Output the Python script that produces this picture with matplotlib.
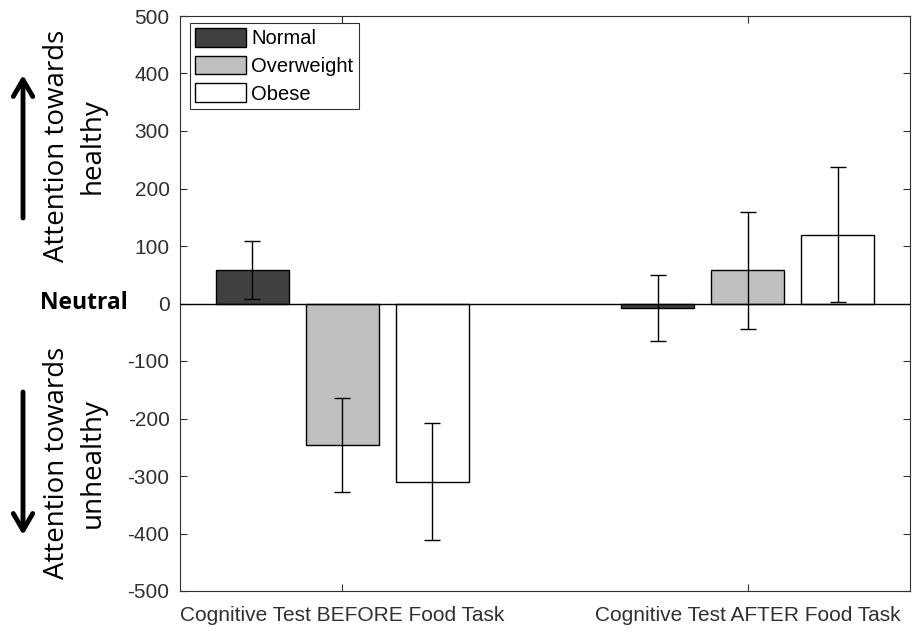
import matplotlib
matplotlib.use("Agg")
import matplotlib.pyplot as plt
import numpy as np

groups = ["Cognitive Test BEFORE Food Task", "Cognitive Test AFTER Food Task"]
series = ["Normal", "Overweight", "Obese"]
means = {
    "Normal": [58, -8],
    "Overweight": [-246, 58],
    "Obese": [-310, 120],
}
errors = {
    "Normal": [50, 57],
    "Overweight": [82, 102],
    "Obese": [102, 118],
}
colors = {"Normal": "#404040", "Overweight": "#bfbfbf", "Obese": "#ffffff"}
yticks = list(range(-500, 501, 100))

W, H = 913, 632
fig = plt.figure(figsize=(W / 100, H / 100), dpi=100)
ax = fig.add_axes([180 / W, (H - 591) / H, 730 / W, 575 / H])

x = np.arange(1, len(groups) + 1)
step = 0.222
width = 0.18
for i, s in enumerate(series):
    xs = x + (i - 1) * step
    ax.bar(xs, means[s], width=width, color=colors[s], edgecolor="black",
           linewidth=1.0, label=s, zorder=2)
    ax.errorbar(xs, means[s], yerr=errors[s], fmt="none", ecolor="black",
                elinewidth=1.0, capsize=5.5, capthick=1.0, zorder=3)

ax.axhline(0, color="black", lw=1.0, zorder=4)
ax.set_xlim(0.6, 2.4)
ax.set_ylim(-500, 500)
ax.set_xticks(x)
ax.set_xticklabels(groups)
ax.set_yticks(yticks)
ax.set_yticklabels([str(v) for v in yticks])
tc = "#303030"
ax.tick_params(direction="in", length=5, width=0.8, colors=tc,
               labelsize=15, top=True, right=True)
ax.tick_params(axis="x", pad=11)
ax.tick_params(axis="y", pad=7.5)
for lab in ax.get_xticklabels() + ax.get_yticklabels():
    lab.set_fontfamily("Liberation Sans")
for sp in ax.spines.values():
    sp.set_color(tc)
    sp.set_linewidth(0.8)

leg = ax.legend(loc="upper left", bbox_to_anchor=(10 / 730, 1 - 7 / 575),
                frameon=True, fancybox=False, edgecolor=tc, framealpha=1,
                prop={"family": "Liberation Sans", "size": 14.5},
                handlelength=2.55, handleheight=1.05, handletextpad=0.25,
                borderpad=0.25, labelspacing=0.37, borderaxespad=0)
leg.get_frame().set_linewidth(0.8)

fam = ["Open Sans", "DejaVu Sans"]
fig.text(75 / W, 1 - 146 / H, "Attention towards\nhealthy", rotation=90,
         ha="center", va="center", fontsize=20, family=fam, linespacing=1.38,
         multialignment="center")
fig.text(75 / W, 1 - 463 / H, "Attention towards\nunhealthy", rotation=90,
         ha="center", va="center", fontsize=20, family=fam, linespacing=1.38,
         multialignment="center")
fig.text(84 / W, 1 - 303 / H, "Neutral", ha="center", va="center",
         fontsize=16.5, fontweight="bold", family=fam)

arrow = dict(arrowstyle="->,head_length=0.6,head_width=0.35", lw=3.5,
             color="black", shrinkA=0, shrinkB=0)
fig.add_artist(matplotlib.patches.FancyArrowPatch(
    (23 / W, 1 - 218 / H), (23 / W, 1 - 75 / H), transform=fig.transFigure,
    mutation_scale=20, **arrow))
fig.add_artist(matplotlib.patches.FancyArrowPatch(
    (23 / W, 1 - 392 / H), (23 / W, 1 - 535 / H), transform=fig.transFigure,
    mutation_scale=20, **arrow))

fig.savefig("out.png", dpi=100, facecolor="white")
